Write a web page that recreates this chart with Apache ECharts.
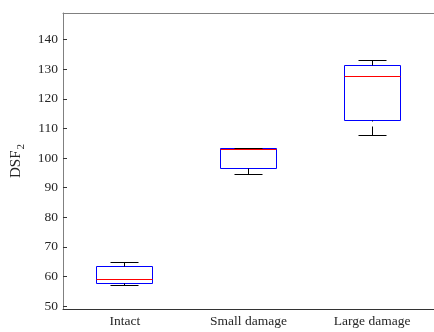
<!DOCTYPE html>
<html>
<head>
<meta charset="utf-8">
<script src="https://cdn.jsdelivr.net/npm/echarts@6/dist/echarts.min.js"></script>
<style>
  html, body { margin: 0; padding: 0; background: #fff; }
  #chart { width: 434px; height: 332px; }
</style>
</head>
<body>
<div id="chart"></div>
<script>
// box plot values
const categories = ['Intact', 'Small damage', 'Large damage'];
const lowerWhisker = [57.0, 94.5, 107.6];
const q1 = [57.5, 96.6, 112.6];
const median = [58.9, 103.0, 127.5];
const q3 = [63.3, 103.3, 131.4];
const upperWhisker = [64.7, 103.3, 132.8];
const yTicks = [50, 60, 70, 80, 90, 100, 110, 120, 130, 140];

const font = 'Liberation Serif';
const txt = '#262626';

const boxData = categories.map((c, i) => [i, lowerWhisker[i], q1[i], median[i], q3[i], upperWhisker[i]]);

function crisp(v) { return Math.round(v - 0.5) + 0.5; }

function renderBox(params, api) {
  const i = api.value(0);
  const band = api.size([1, 0])[0];
  const hw = Math.round(band * 0.225);
  const cw = Math.round(hw / 2);
  const cx = crisp(api.coord([i, 0])[0]);
  const y = k => crisp(api.coord([i, api.value(k)])[1]);
  const yLo = y(1), yQ1 = y(2), yMed = y(3), yQ3 = y(4), yHi = y(5);
  const black = { stroke: '#000', lineWidth: 1 };
  const dashed = { stroke: '#000', lineWidth: 1, lineDash: [9, 5] };
  return {
    type: 'group',
    children: [
      { type: 'rect', shape: { x: cx - hw, y: yQ3, width: 2 * hw, height: yQ1 - yQ3 },
        style: { fill: 'none', stroke: '#0000ff', lineWidth: 1 } },
      { type: 'line', shape: { x1: cx - hw, y1: yMed, x2: cx + hw, y2: yMed },
        style: { stroke: '#ff0000', lineWidth: 1 } },
      { type: 'line', shape: { x1: cx, y1: yHi, x2: cx, y2: yQ3 }, style: dashed },
      { type: 'line', shape: { x1: cx, y1: yLo, x2: cx, y2: yQ1 }, style: dashed },
      { type: 'line', shape: { x1: cx - cw, y1: yHi, x2: cx + cw, y2: yHi }, style: black },
      { type: 'line', shape: { x1: cx - cw, y1: yLo, x2: cx + cw, y2: yLo }, style: black }
    ]
  };
}

const chart = echarts.init(document.getElementById('chart'));
const option = {
  animation: false,
  backgroundColor: '#fff',
  grid: { left: 63, top: 13, bottom: 23, width: 375 },
  xAxis: [
    {
      type: 'category',
      data: categories,
      position: 'bottom',
      axisLine: { onZero: false, lineStyle: { color: '#333', width: 1 } },
      axisTick: { inside: true, length: 4, alignWithLabel: true, lineStyle: { color: '#333' } },
      axisLabel: { color: txt, fontFamily: font, fontSize: 13.5, margin: 5 },
      splitLine: { show: false }
    },
    {
      type: 'category',
      data: categories,
      position: 'top',
      axisLine: { lineStyle: { color: '#808080', width: 1 } },
      axisTick: { inside: true, length: 4, alignWithLabel: true, lineStyle: { color: '#333' } },
      axisLabel: { show: false },
      splitLine: { show: false }
    }
  ],
  yAxis: {
    type: 'value',
    min: 49,
    max: 149,
    name: 'DSF{sub|2}',
    nameLocation: 'middle',
    nameRotate: 90,
    nameGap: 33,
    nameTextStyle: {
      color: txt, fontFamily: font, fontSize: 15,
      rich: { sub: { fontFamily: font, fontSize: 11, color: txt, padding: [10, 0, 0, 1] } }
    },
    axisLine: { show: true, lineStyle: { color: '#808080', width: 1 } },
    axisTick: { show: true, inside: true, length: 4, customValues: yTicks, lineStyle: { color: '#333' } },
    axisLabel: { color: txt, fontFamily: font, fontSize: 13.5, margin: 5, customValues: yTicks },
    splitLine: { show: false }
  },
  series: [
    {
      type: 'custom',
      renderItem: renderBox,
      encode: { x: 0, y: [1, 2, 3, 4, 5] },
      data: boxData,
      silent: true
    }
  ]
};
chart.setOption(option);
</script>
</body>
</html>
